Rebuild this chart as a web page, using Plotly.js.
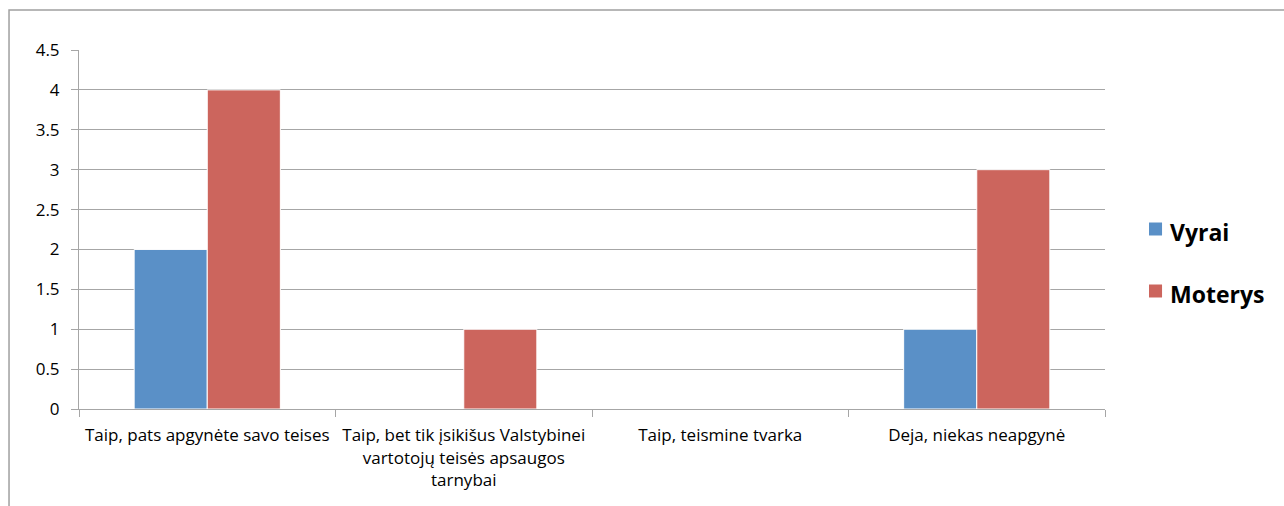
<!DOCTYPE html>
<html>
<head>
<meta charset="utf-8">
<script src="https://cdn.plot.ly/plotly-3.0.1.min.js"></script>
<style>
  html, body { margin: 0; padding: 0; background: #ffffff; }
  #chart { width: 1284px; height: 506px; }
</style>
</head>
<body>
<div id="chart"></div>
<script>
// Answer categories
const categories = [
  "Taip, pats apgynėte savo teises",
  "Taip, bet tik įsikišus Valstybinei<br>vartotojų teisės apsaugos<br>tarnybai",
  "Taip, teismine tvarka",
  "Deja, niekas neapgynė"
];

// Counts per group
const vyrai = [2, 0, 0, 1];
const moterys = [4, 1, 0, 3];

const seriesNames = ["Vyrai", "Moterys"];
const seriesColors = ["#5A90C7", "#CC655D"];
const yTicks = [0, 0.5, 1, 1.5, 2, 2.5, 3, 3.5, 4, 4.5];
const yTickText = ["0", "0.5", "1", "1.5", "2", "2.5", "3", "3.5", "4", "4.5"];

const FONT = "'Open Sans', 'Noto Sans', sans-serif";

const seriesValues = [vyrai, moterys];
const traces = seriesNames.map((name, i) => ({
  type: "bar",
  name: name,
  x: categories,
  y: seriesValues[i],
  marker: { color: seriesColors[i], line: { color: "#ffffff", width: 1 } },
  hoverinfo: "none"
}));

// Legend on the right: coloured squares with bold labels
const legendTop = 0.5195;   // paper y of first square's top
const legendStep = 0.1727;  // vertical distance between entries
const squareH = 0.0362;
const legendShapes = seriesNames.map((name, i) => ({
  type: "rect", xref: "paper", yref: "paper",
  x0: 1.0429, x1: 1.0556,
  y0: legendTop - i * legendStep - squareH,
  y1: legendTop - i * legendStep,
  fillcolor: seriesColors[i],
  line: { width: 0 }
}));
const legendLabels = seriesNames.map((name, i) => ({
  xref: "paper", yref: "paper",
  x: 1.0615, xanchor: "left",
  y: legendTop - i * legendStep - squareH / 2 - 0.008, yanchor: "middle",
  text: "<b>" + name + "</b>",
  showarrow: false,
  font: { family: FONT, size: 23, color: "#000000" }
}));

const layout = {
  width: 1284,
  height: 506,
  margin: { l: 79, r: 179, t: 50, b: 97 },
  paper_bgcolor: "#ffffff",
  plot_bgcolor: "#ffffff",
  font: { family: FONT, size: 17, color: "#000000" },
  barmode: "group",
  bargap: 0.43,
  bargroupgap: 0,
  showlegend: false,
  xaxis: {
    type: "category",
    showgrid: false,
    showline: true,
    linecolor: "#a6a6a6",
    linewidth: 1,
    ticks: "outside",
    tickson: "boundaries",
    ticklen: 7,
    tickcolor: "#a6a6a6",
    ticklabelstandoff: 11,
    tickfont: { family: FONT, size: 17, color: "#000000" },
    zeroline: false,
    fixedrange: true
  },
  yaxis: {
    range: [0, 4.5],
    tickvals: yTicks,
    ticktext: yTickText,
    showgrid: true,
    gridcolor: "#a6a6a6",
    gridwidth: 1,
    showline: true,
    linecolor: "#a6a6a6",
    linewidth: 1,
    ticks: "outside",
    ticklen: 7,
    tickcolor: "#a6a6a6",
    ticklabelstandoff: 8,
    tickfont: { family: FONT, size: 17, color: "#000000" },
    zeroline: false,
    fixedrange: true
  },
  shapes: [
    // outer chart frame
    {
      type: "rect", xref: "paper", yref: "paper",
      x0: -0.0682, x1: 1.4, y0: -0.5, y1: 1.1114,
      line: { color: "#a0a0a0", width: 1.5 },
      fillcolor: "rgba(0,0,0,0)",
      layer: "below"
    }
  ].concat(legendShapes),
  annotations: legendLabels
};

Plotly.newPlot("chart", traces, layout, { displayModeBar: false, staticPlot: true });
</script>
</body>
</html>
